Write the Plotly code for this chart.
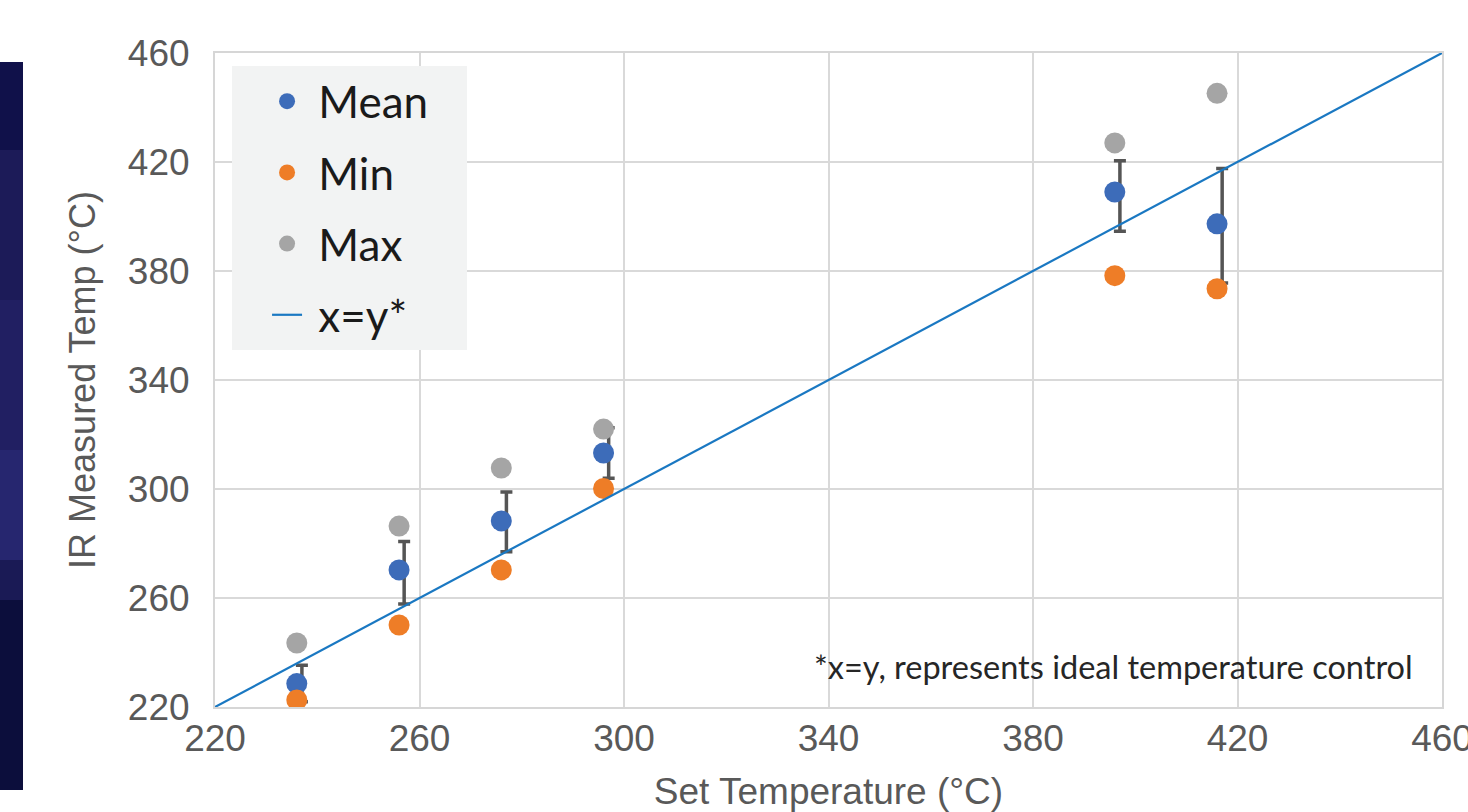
import plotly.graph_objects as go

# ---- data ----
set_temp = [236, 256, 276, 296, 396, 416]
mean_temp = [228.6, 270.3, 288.3, 313.2, 409.0, 397.3]
min_temp = [222.6, 250.1, 270.3, 300.2, 378.3, 373.5]
max_temp = [243.5, 286.4, 307.7, 322.0, 427.0, 445.2]
# error-bar series (plotted slightly right of the mean markers, as in the source)
bar_x = [237, 257, 277, 297, 397, 417]
err_plus = [6.7, 10.4, 10.6, 9.3, 11.5, 20.3]
err_minus = [6.7, 12.5, 11.3, 9.3, 14.4, 21.7]
ideal_line = [220, 460]
axis_ticks = [220, 260, 300, 340, 380, 420, 460]

C_MEAN = "#3D6CB9"
C_MIN = "#EE7D27"
C_MAX = "#A5A5A5"
C_LINE = "#1A78C2"
TICK_COL = "#595959"
NB = "\u00a0"

fig = go.Figure()

fig.add_trace(go.Scatter(
    x=bar_x, y=mean_temp, mode="markers",
    marker=dict(size=1, color="rgba(0,0,0,0)"),
    error_y=dict(type="data", symmetric=False, array=err_plus, arrayminus=err_minus,
                 color="#555555", thickness=3.5, width=6),
    showlegend=False, hoverinfo="skip"))

fig.add_trace(go.Scatter(x=set_temp, y=mean_temp, mode="markers", name=NB + "Mean" + NB * 3,
                         legendgroup="a",
                         marker=dict(size=21, color=C_MEAN)))
fig.add_trace(go.Scatter(x=set_temp, y=min_temp, mode="markers", name=NB + "Min",
                         legendgroup="b",
                         marker=dict(size=21, color=C_MIN)))
fig.add_trace(go.Scatter(x=set_temp, y=max_temp, mode="markers", name=NB + "Max",
                         legendgroup="c",
                         marker=dict(size=21, color=C_MAX)))
fig.add_trace(go.Scatter(x=ideal_line, y=ideal_line, mode="lines", name=NB + "x=y*",
                         legendgroup="d",
                         line=dict(color=C_LINE, width=2.2)))

axis_common = dict(
    range=[220, 460], tickmode="array", tickvals=axis_ticks,
    showgrid=True, gridcolor="#D9D9D9", gridwidth=2,
    showline=True, linecolor="#D6D6D6", linewidth=2, mirror=True,
    zeroline=False, ticks="",
    tickfont=dict(family="Liberation Sans, Arial, sans-serif", size=37, color=TICK_COL),
)

fig.update_xaxes(**axis_common, ticklabelstandoff=-2, ticklabeloverflow="allow",
                 automargin=True,
                 title=dict(text="Set Temperature (°C)", standoff=26,
                            font=dict(family="Liberation Sans, Arial, sans-serif", size=37, color=TICK_COL)))
fig.update_yaxes(**axis_common, ticklabelstandoff=16,
                 title=dict(text="IR Measured Temp (°C)", standoff=21,
                            font=dict(family="Liberation Sans, Arial, sans-serif", size=36, color=TICK_COL)))

# dark strip of the slide background on the left edge
bands = [(62, 150, "#10114a"), (150, 300, "#1c1b58"), (300, 450, "#211f62"),
         (450, 560, "#26266f"), (560, 600, "#1a1a55"), (600, 790, "#0c0e3c")]
shapes = []
for top, bot, col in bands:
    shapes.append(dict(type="rect", xref="paper", yref="paper",
                       x0=(0 - 215) / 1227, x1=(23 - 215) / 1227,
                       y0=(707 - bot) / 654, y1=(707 - top) / 654,
                       fillcolor=col, line=dict(width=0), layer="below"))

fig.update_layout(
    width=1468, height=812,
    margin=dict(l=215, r=26, t=53, b=105, autoexpand=False),
    paper_bgcolor="white", plot_bgcolor="white",
    shapes=shapes,
    legend=dict(x=0.0139, y=0.98, xanchor="left", yanchor="top",
                bgcolor="#F2F3F3", borderwidth=0, indentation=35,
                font=dict(family="Lato, sans-serif", size=44, color="#1a1a1a"),
                tracegroupgap=11, itemsizing="trace"),
    annotations=[dict(x=454.7, y=235, xref="x", yref="y", xanchor="right", yanchor="middle",
                      text="*x=y, represents ideal temperature control",
                      showarrow=False,
                      font=dict(family="Lato, sans-serif", size=32.5, color="#262626"))],
)

fig.write_html("out.html")
